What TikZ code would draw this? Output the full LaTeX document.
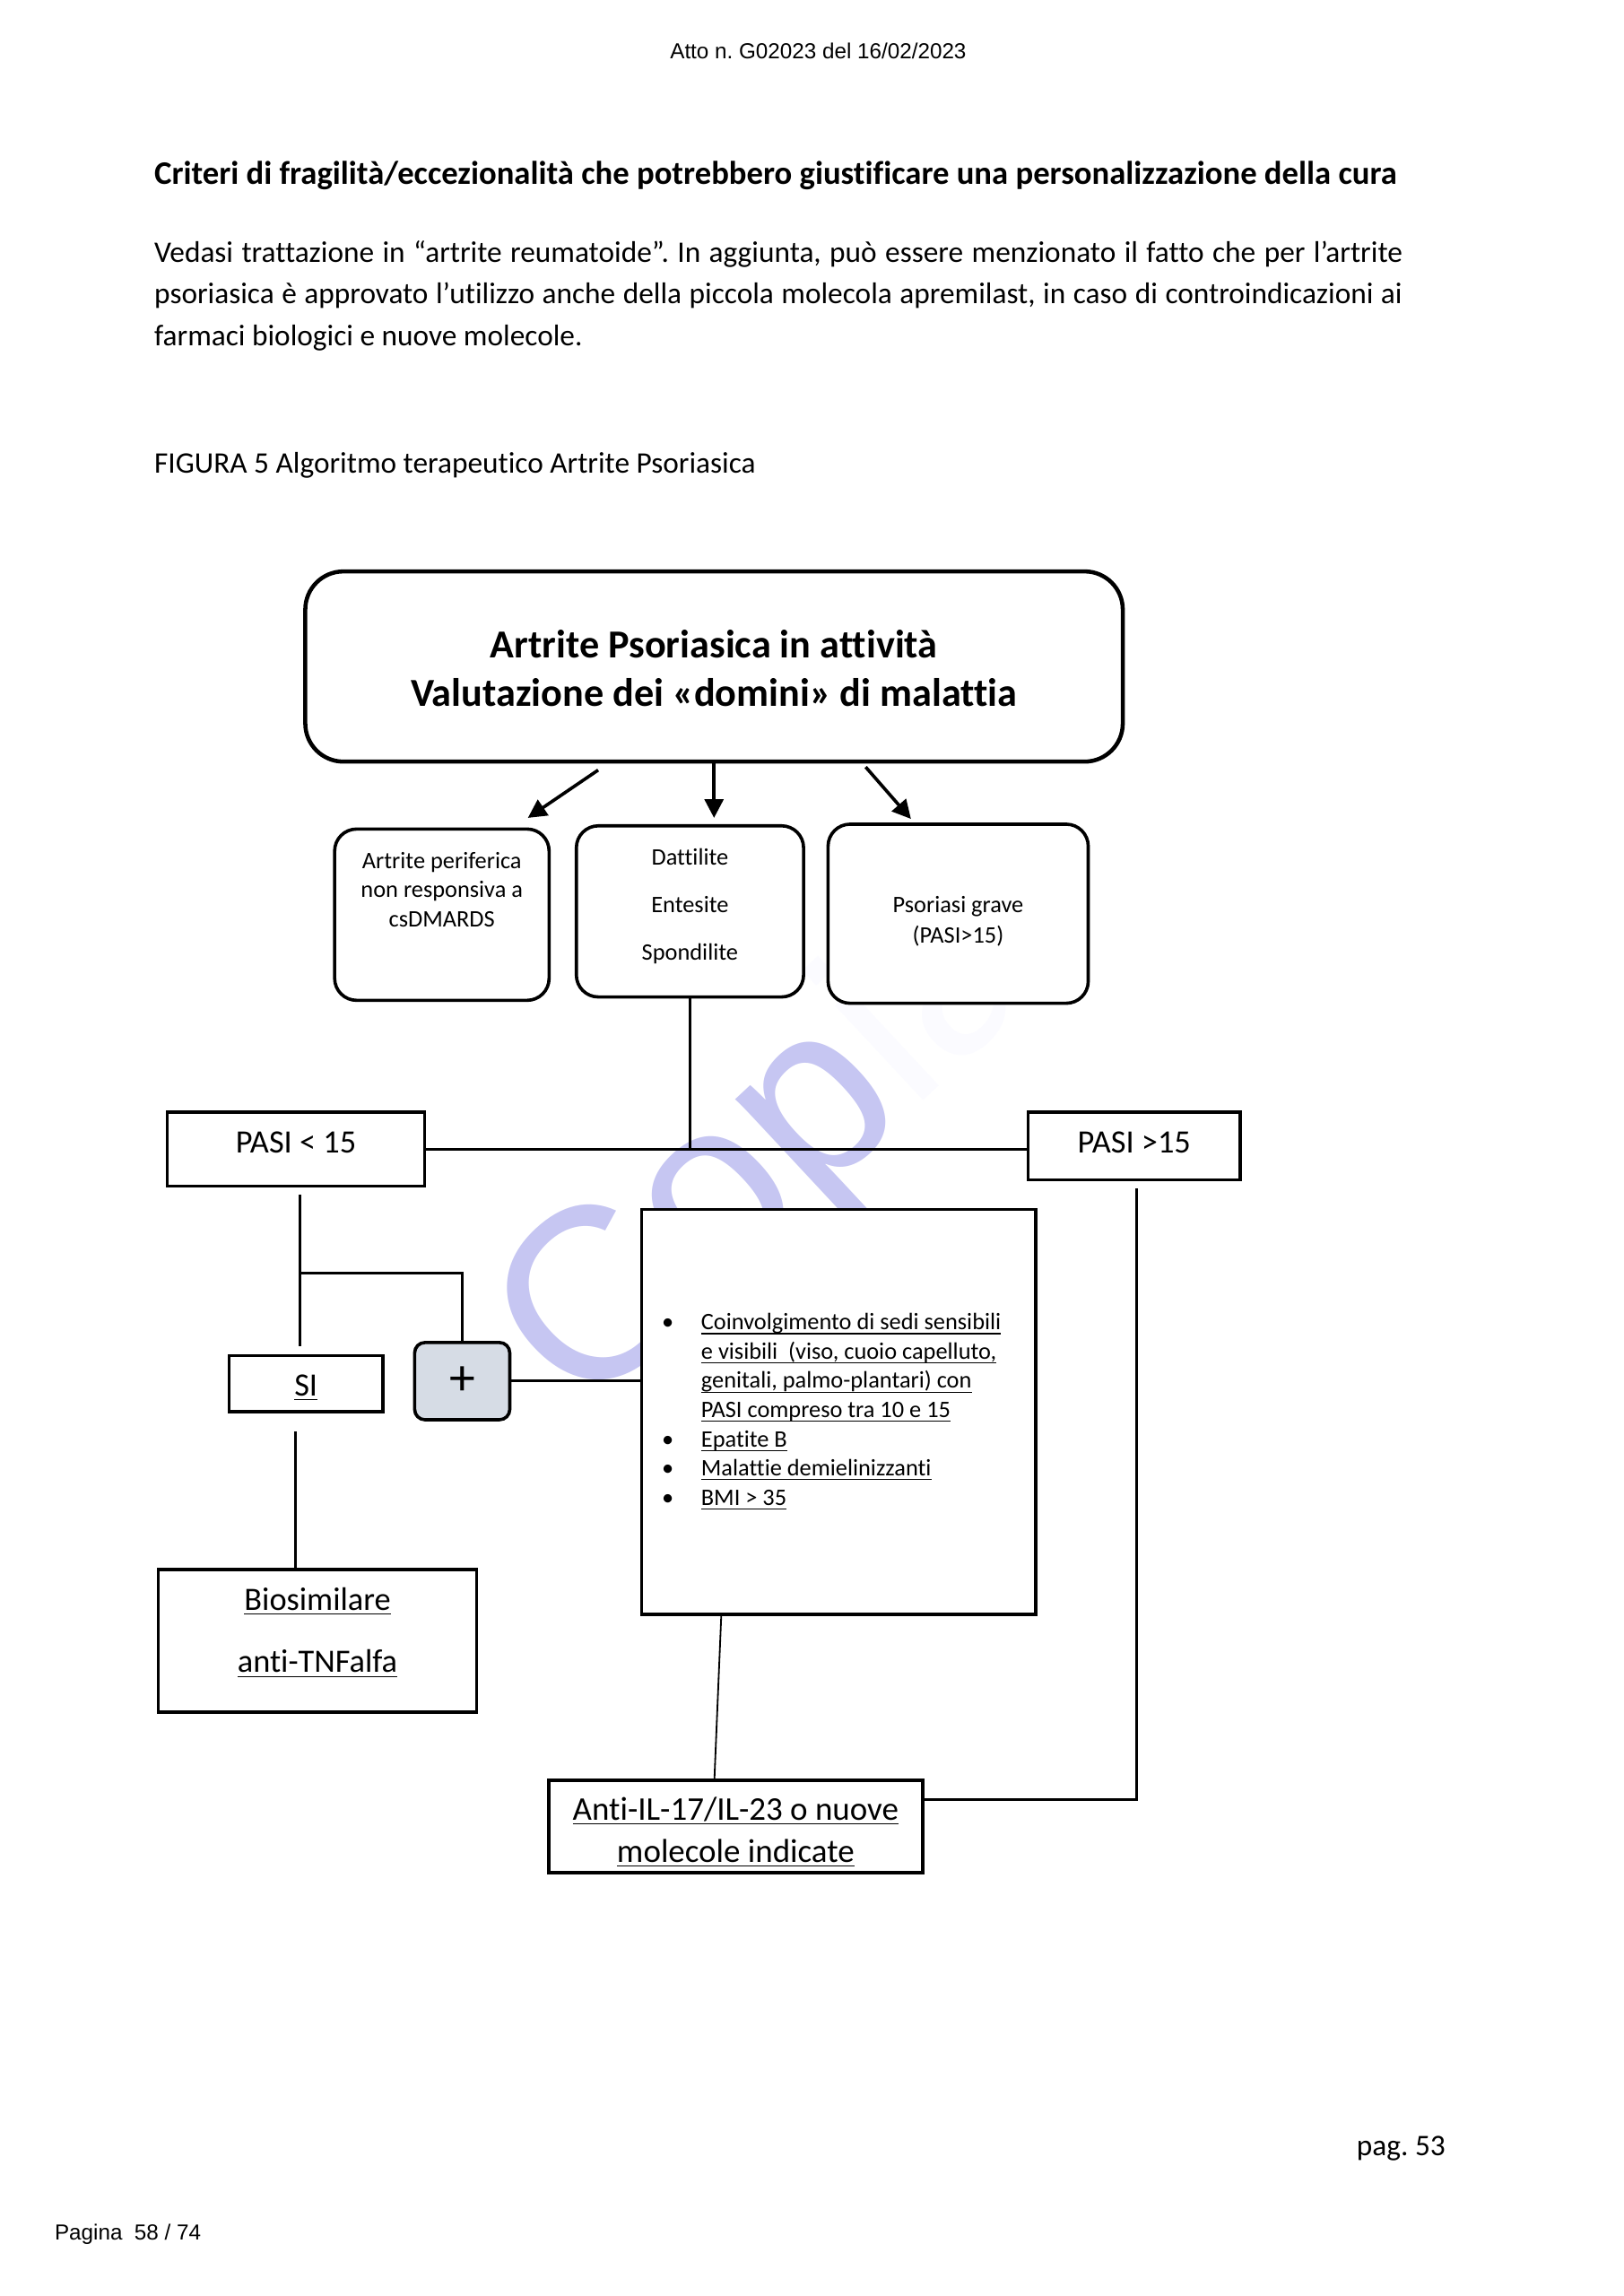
\documentclass[tikz,border=0pt]{standalone}
\usepackage{fontspec}
\setmainfont{Carlito}[Ligatures=CommonOff]
\newfontfamily\arialfont{Liberation Sans}
\usetikzlibrary{arrows.meta}
\newlength\gu
\setlength\gu{0.018953cm}
\newcommand\ulin[1]{\underline{\smash{#1}}}
\definecolor{plusfill}{RGB}{214,220,229}
\definecolor{stamp}{RGB}{198,198,242}
\definecolor{stampfaint}{RGB}{251,251,255}
\frenchspacing

\begin{document}
\begin{tikzpicture}[x=\gu, y=-\gu,
  every node/.style={inner sep=0pt,
    execute at begin node={\spaceskip=\fontdimen2\font\xspaceskip=\fontdimen2\font\relax}},
  domainbox/.style={draw, line width=1.2pt, rounded corners=15\gu, fill=white, align=center},
  plainbox/.style={draw, line width=1.2pt, fill=white, align=center},
  link/.style={line width=1pt},
  thinlink/.style={line width=0.6pt},
  pointer/.style={line width=1.2pt, -{Triangle[length=0.24cm, width=0.24cm]}}]

  \useasboundingbox[fill=white] (0,0) rectangle (1108,1567);

  % watermark
  \node[anchor=base west, rotate=43, font=\arialfont\fontsize{90}{90}\selectfont]
        (stampword) at (398,968) {\textcolor{stamp}{Cop}\textcolor{stampfaint}{ia}};

  % page text
  \node[anchor=base, font=\arialfont\fontsize{8}{9.6}\selectfont] (act) at (558.5,40)
        {Atto n. G02023 del 16/02/2023};
  \node[anchor=base west, font=\fontsize{12.1}{14}\selectfont\bfseries] (heading) at (105,126)
        {Criteri di fragilità/eccezionalità che potrebbero giustificare una personalizzazione della cura};
  \node[anchor=base west, text width=852\gu, align=left, font=\fontsize{11}{15.3}\selectfont,
        execute at begin node={\spaceskip=0pt\xspaceskip=0pt\relax}] (intro) at (105,179)
        {\makebox[852\gu][s]{Vedasi trattazione in “artrite reumatoide”. In aggiunta, può essere menzionato il fatto che per l’artrite}\\
         \makebox[852\gu][s]{psoriasica è approvato l’utilizzo anche della piccola molecola apremilast, in caso di controindicazioni ai}\\
         farmaci biologici e nuove molecole.};
  \node[anchor=base west, font=\fontsize{11}{13}\selectfont] (caption) at (105,323)
        {FIGURA 5 Algoritmo terapeutico Artrite Psoriasica};

  % domains
  \node[domainbox, line width=1.5pt, rounded corners=26\gu, anchor=north west, text width=558\gu,
        text height=59.1\gu, text depth=70.7\gu, font=\fontsize{14.6}{17.9}\selectfont\bfseries]
        (onset) at (207,388.6) {Artrite Psoriasica in attività\\Valutazione dei «domini» di malattia};
  \node[domainbox, anchor=north west, text width=146.4\gu, text height=27\gu, text depth=89.9\gu,
        font=\fontsize{8.7}{10.7}\selectfont]
        (periph) at (227.3,564.7) {Artrite periferica\\non responsiva a\\csDMARDS};
  \node[domainbox, anchor=north west, text width=155.1\gu, text height=26.5\gu, text depth=90.3\gu,
        font=\fontsize{8.7}{17.6}\selectfont]
        (axial) at (392.3,562.5) {Dattilite\\Entesite\\Spondilite};
  \node[domainbox, anchor=north west, text width=177.6\gu, text height=60.6\gu, text depth=61.6\gu,
        font=\fontsize{8.7}{11.2}\selectfont]
        (skin) at (564.1,561.4) {Psoriasi grave\\(PASI>15)};

  % PASI
  \node[plainbox, anchor=north west, text width=175.6\gu, text height=27.6\gu, text depth=22.8\gu,
        font=\fontsize{12}{14}\selectfont] (mild) at (113.1,757.9) {PASI < 15};
  \node[plainbox, anchor=north west, text width=144.7\gu, text height=27.6\gu, text depth=18.7\gu,
        font=\fontsize{12}{14}\selectfont] (severe) at (700.7,757.9) {PASI >15};
  \node[plainbox, anchor=north west, text width=105.1\gu, text height=27.4\gu, text depth=10.7\gu,
        font=\fontsize{12}{14}\selectfont] (yes) at (155.2,924.1) {\ulin{SI}};
  \node[draw, line width=1.2pt, rounded corners=7\gu, fill=plusfill, minimum width=64.9\gu,
        minimum height=52.7\gu, font=\fontsize{19}{20}\selectfont] (extra) at (315.5,942.6) {+};
  \node[plainbox, align=left, anchor=north west, text width=269\gu, text height=82.3\gu,
        text depth=194.1\gu, font=\fontsize{8.7}{10.75}\selectfont] (crit) at (436.8,824.2)
        {\hspace*{13.9\gu}\makebox[26.8\gu][l]{\textbullet}\ulin{Coinvolgimento di sedi sensibili}\\
         \hspace*{40.7\gu}\ulin{e visibili\ \ (viso, cuoio capelluto,}\\
         \hspace*{40.7\gu}\ulin{genitali, palmo-plantari) con}\\
         \hspace*{40.7\gu}\ulin{PASI compreso tra 10 e 15}\\
         \hspace*{13.9\gu}\makebox[26.8\gu][l]{\textbullet}\ulin{Epatite B}\\
         \hspace*{13.9\gu}\makebox[26.8\gu][l]{\textbullet}\ulin{Malattie demielinizzanti}\\
         \hspace*{13.9\gu}\makebox[26.8\gu][l]{\textbullet}\ulin{BMI > 35}};

  % treatments
  \node[plainbox, anchor=north west, text width=217.2\gu, text height=27.8\gu, text depth=69.5\gu,
        font=\fontsize{12}{23}\selectfont] (biosim) at (107,1070) {\ulin{Biosimilare}\\\ulin{anti-TNFalfa}};
  \node[plainbox, anchor=north west, text width=255.3\gu, text height=27.4\gu, text depth=35.9\gu,
        font=\fontsize{12.2}{15.5}\selectfont] (newdrug) at (373.4,1213.8)
        {\ulin{Anti-IL-17/IL-23 o nuove}\\\ulin{molecole indicate}};

  \node[anchor=base east, font=\fontsize{11}{13}\selectfont] (pagno) at (987,1471) {pag. 53};
  \node[anchor=base west, font=\arialfont\fontsize{8}{9.6}\selectfont] (sheet) at (37,1529) {Pagina\ \ 58 / 74};

  % arrows to the domains
  \draw[pointer] ([xshift=-79.1\gu, yshift=-4.4\gu]onset.south) -- ([xshift=58.7\gu, yshift=6.5\gu]periph.north);
  \draw[pointer] (onset.south) -- ([yshift=4.3\gu]onset.south |- axial.north);
  \draw[pointer] ([xshift=103.5\gu, yshift=-2.3\gu]onset.south) -- ([xshift=-32.2\gu, yshift=2.5\gu]skin.north);

  % connectors
  \coordinate (fork) at (204.5,868.6);
  \draw[link] (axial.south) -- (axial.south |- mild.east);
  \draw[link] (mild.east) -- (mild.east -| severe.west);
  \draw[link] ([yshift=-4.7\gu]mild.south -| fork) -- ([yshift=5.1\gu]yes.north -| fork);
  \draw[link] (fork) -| (extra.north);
  \draw[link] (extra.east) -- (extra.east -| crit.west);
  \draw[link] ([xshift=-6.9\gu, yshift=-12.5\gu]yes.south) -- ([xshift=-6.9\gu]yes.south |- biosim.north);
  \draw[thinlink] ([xshift=-80.1\gu]crit.south) -- ([xshift=-14.5\gu]newdrug.north);
  \draw[link] ([xshift=1.4\gu, yshift=-4.7\gu]severe.south) |- ([yshift=18.4\gu]newdrug.east);
\end{tikzpicture}
\end{document}
